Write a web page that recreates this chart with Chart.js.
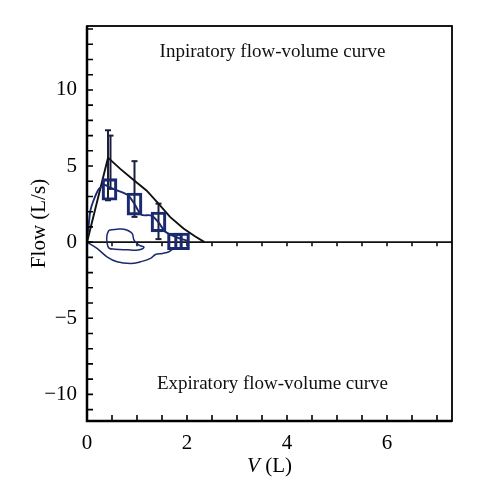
<!DOCTYPE html>
<html>
<head>
<meta charset="utf-8">
<script src="https://cdn.jsdelivr.net/npm/chart.js@4.4.1/dist/chart.umd.min.js"></script>
<style>
  html, body { margin: 0; padding: 0; background: #fff; }
  #wrap { width: 495px; height: 496px; }
</style>
</head>
<body>
<div id="wrap"><canvas id="flowVolumeChart"></canvas></div>
<script>
// axis ticks
const xTicks = [0, 2, 4, 6];
const yTicks = [-10, -5, 0, 5, 10];

// black envelope of the inspiratory curve
const envelopeV    = [0, 0.42, 0.66, 0.92, 1.19, 1.43, 1.66, 1.93, 2.15, 2.35];
const envelopeFlow = [0, 5.55, 4.83, 4.12, 3.40, 2.53, 1.66, 0.90, 0.40, 0.00];

// mean inspiratory curve (blue)
const meanV    = [0, 0.03, 0.07, 0.15, 0.24, 0.35, 0.45, 0.60, 0.82, 0.95, 1.09, 1.29, 1.43, 1.56, 1.70, 1.85, 2.00];
const meanFlow = [0.2, 1.0, 2.1, 2.9, 3.5, 3.75, 3.6, 3.4, 3.08, 2.5, 1.8, 1.75, 1.3, 0.7, 0.45, 0.25, 0.1];

// small closed loop near zero
const loopV    = [0.44, 0.60, 0.74, 0.90, 0.94, 1.04, 1.14, 1.02, 0.80, 0.56, 0.44, 0.40, 0.40, 0.44];
const loopFlow = [0.79, 0.85, 0.85, 0.59, 0.13, -0.20, -0.33, -0.52, -0.50, -0.46, -0.39, 0, 0.46, 0.79];

// expiratory curve (blue, below zero)
const expV    = [0, 0.20, 0.40, 0.60, 0.87, 1.07, 1.27, 1.37, 1.51, 1.64, 1.75];
const expFlow = [0, -0.41, -0.96, -1.29, -1.40, -1.29, -1.07, -0.81, -0.74, -0.63, -0.35];

// boxes (mean +/- sd)
const boxV    = [0.45, 0.95, 1.43, 1.76, 1.90];
const boxLow  = [2.75, 1.77, 0.67, -0.5, -0.5];
const boxHigh = [4.17, 3.23, 1.98, 0.6, 0.6];

// error bars
const errV    = [0.42, 0.47, 0.95, 1.43];
const errLow  = [2.75, 3.5, 1.66, 0.2];
const errHigh = [7.35, 7.0, 5.32, 2.53];

const xMax = 7.3, yMin = -11.75, yMax = 14.2;
const serif = "'Liberation Serif', 'Times New Roman', serif";
const navy = "#1b2a6e";

function zip(xs, ys) {
  return xs.map((x, i) => ({ x: x, y: ys[i] }));
}

function curve(xs, ys, color, width, tension) {
  return {
    type: "scatter",
    data: zip(xs, ys),
    showLine: true,
    borderColor: color,
    borderWidth: width,
    pointRadius: 0,
    tension: tension,
  };
}

const errorBars = errV.map((x, i) => ({
  type: "scatter",
  data: [{ x: x, y: errLow[i] }, { x: x, y: errHigh[i] }],
  showLine: true,
  borderColor: "#1a1f3a",
  borderWidth: 2,
  pointStyle: "line",
  pointRadius: 3,
  pointBorderWidth: 2,
  pointBorderColor: "#1a1f3a",
}));

const framePlugin = {
  id: "frame",
  beforeDatasetsDraw(chart) {
    const { ctx, chartArea: a, scales } = chart;
    const y0 = scales.y.getPixelForValue(0);
    ctx.save();
    ctx.strokeStyle = "#111";
    ctx.lineWidth = 1.6;
    ctx.beginPath();
    ctx.moveTo(a.left, y0);
    ctx.lineTo(a.right, y0);
    for (let v = 0.5; v < xMax; v += 0.5) {
      const px = scales.x.getPixelForValue(v);
      ctx.moveTo(px, y0);
      ctx.lineTo(px, y0 + 4);
    }
    ctx.stroke();
    ctx.restore();
  },
  afterDraw(chart) {
    const { ctx, chartArea: a, scales } = chart;
    ctx.save();
    ctx.strokeStyle = "#000";
    // frame
    ctx.lineWidth = 1.8;
    ctx.strokeRect(a.left, a.top, a.right - a.left, a.bottom - a.top);
    ctx.lineWidth = 2.5;
    ctx.beginPath();
    ctx.moveTo(a.left, a.top);
    ctx.lineTo(a.left, a.bottom);
    ctx.lineTo(a.right, a.bottom);
    ctx.stroke();
    // inward ticks
    ctx.lineWidth = 1.6;
    ctx.beginPath();
    for (let v = 0.5; v < xMax; v += 0.5) {
      const px = scales.x.getPixelForValue(v);
      ctx.moveTo(px, a.bottom);
      ctx.lineTo(px, a.bottom - 6);
    }
    for (let v = Math.ceil(yMin); v <= Math.floor(yMax); v += 1) {
      const py = scales.y.getPixelForValue(v);
      ctx.moveTo(a.left, py);
      ctx.lineTo(a.left + 6, py);
    }
    ctx.stroke();

    // annotations
    ctx.fillStyle = "#111";
    ctx.textAlign = "center";
    ctx.textBaseline = "middle";
    ctx.font = "19px " + serif;
    const cx = (a.left + a.right) / 2 + 3;
    ctx.fillText("Inpiratory flow-volume curve", cx, scales.y.getPixelForValue(12.5));
    ctx.fillText("Expiratory flow-volume curve", cx, scales.y.getPixelForValue(-9.3));

    // x axis title with italic V
    ctx.fillStyle = "#000";
    ctx.textAlign = "left";
    ctx.font = "italic 21px " + serif;
    const wV = ctx.measureText("V").width;
    ctx.font = "21px " + serif;
    const wL = ctx.measureText(" (L)").width;
    const tx = (a.left + a.right) / 2 - (wV + wL) / 2;
    const ty = 466;
    ctx.font = "italic 21px " + serif;
    ctx.fillText("V", tx, ty);
    ctx.font = "21px " + serif;
    ctx.fillText(" (L)", tx + wV, ty);
    ctx.restore();
  },
};

const ctx = document.getElementById("flowVolumeChart").getContext("2d");

new Chart(ctx, {
  type: "scatter",
  data: {
    datasets: [
      {
        type: "bar",
        data: boxV.map((x, i) => ({ x: x, y: [boxLow[i], boxHigh[i]] })),
        backgroundColor: "rgba(0,0,0,0)",
        borderColor: navy,
        borderWidth: 2.5,
        borderSkipped: false,
        barThickness: 15,
      },
      curve(meanV, meanFlow, navy, 1.9, 0.3),
      curve(loopV, loopFlow, navy, 1.5, 0.4),
      curve(expV, expFlow, navy, 1.5, 0.4),
      curve(envelopeV, envelopeFlow, "#111", 1.9, 0),
      ...errorBars,
    ],
  },
  options: {
    responsive: true,
    maintainAspectRatio: false,
    animation: false,
    layout: { padding: { top: 26, right: 43, left: 0, bottom: 0 } },
    plugins: {
      legend: { display: false },
      tooltip: { enabled: false },
    },
    scales: {
      x: {
        type: "linear",
        min: 0,
        max: xMax,
        offset: false,
        afterBuildTicks: (scale) => {
          scale.ticks = xTicks.map((v) => ({ value: v }));
        },
        afterFit: (scale) => {
          scale.height = 75;
        },
        grid: { display: false, drawTicks: false, offset: false },
        border: { display: false },
        ticks: {
          color: "#000",
          padding: 10,
          maxRotation: 0,
          font: { family: serif, size: 21 },
        },
      },
      y: {
        type: "linear",
        min: yMin,
        max: yMax,
        afterBuildTicks: (scale) => {
          scale.ticks = yTicks.map((v) => ({ value: v }));
        },
        afterFit: (scale) => {
          scale.width = 87;
        },
        grid: { display: false, drawTicks: false },
        border: { display: false },
        ticks: {
          color: "#000",
          padding: 10,
          font: { family: serif, size: 21 },
          callback: (v) => (v < 0 ? "\u2212" + Math.abs(v) : String(v)),
        },
        title: {
          display: true,
          text: "Flow (L/s)",
          color: "#000",
          font: { family: serif, size: 21 },
          padding: { top: 27, bottom: 0 },
        },
      },
    },
  },
  plugins: [framePlugin],
});
</script>
</body>
</html>
